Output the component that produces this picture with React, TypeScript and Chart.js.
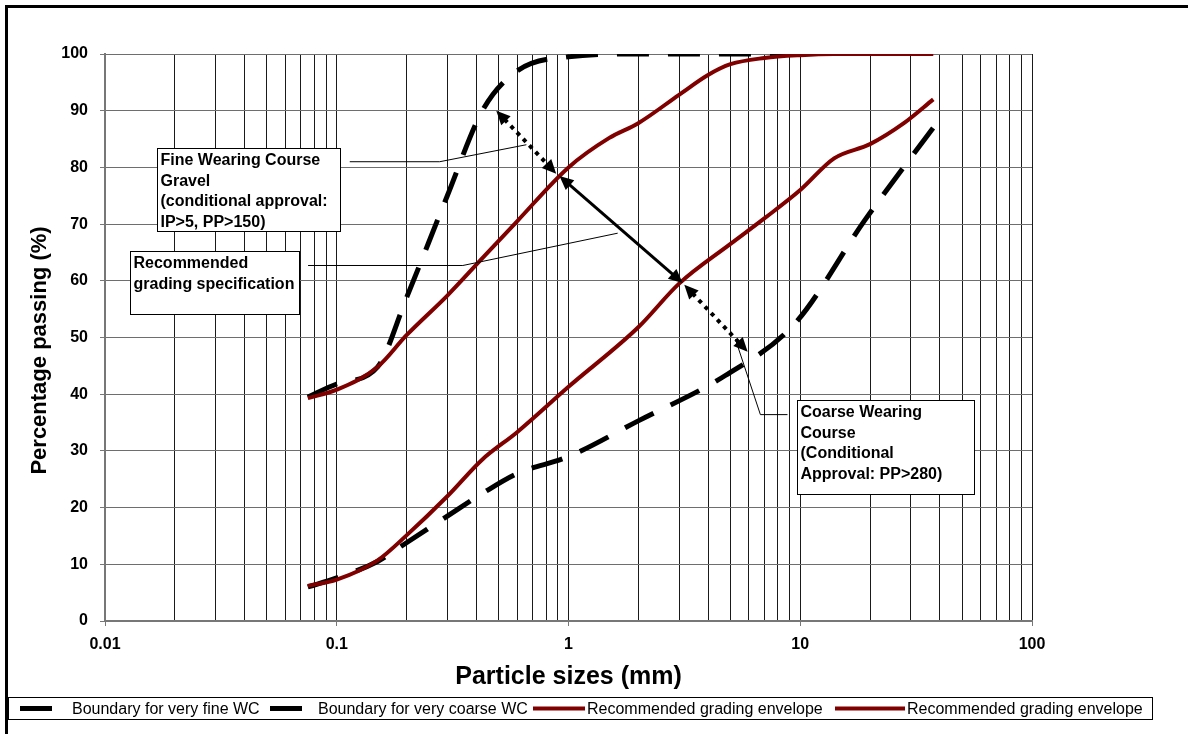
import React, { useEffect, useRef } from 'react';
import { Chart, registerables } from 'chart.js';

Chart.register(...registerables);

// ---------- data ----------
const seriesLabels = [
  'Boundary for very fine WC',
  'Boundary for very coarse WC',
  'Recommended grading envelope',
  'Recommended grading envelope',
];

const fineSizes = [0.075, 0.1, 0.15, 0.2, 0.3, 0.425, 0.6, 1.0, 2.0, 10];
const finePassing = [39.5, 41.8, 44.8, 57, 75, 90, 97, 99.5, 100, 100];

const coarseSizes = [0.075, 0.1, 0.15, 0.2, 0.3, 0.425, 0.6, 1.0, 2.0, 4.75, 9.5, 19, 37.5];
const coarsePassing = [6, 7.6, 10.5, 13.8, 18.5, 22.5, 26, 29, 35.3, 43.3, 52.5, 70.7, 87];

const upperSizes = [0.075, 0.1, 0.15, 0.2, 0.3, 0.425, 0.6, 1, 1.5, 2, 3, 4, 5, 7, 10, 14, 20, 37.5];
const upperPassing = [39.3, 40.8, 44.8, 50.4, 57.4, 64, 70.5, 80, 85.2, 87.8, 92.8, 96.3, 98.2, 99.3, 99.8, 100, 100, 100];

const lowerSizes = [0.075, 0.1, 0.15, 0.2, 0.3, 0.425, 0.6, 1, 2, 3, 5, 7, 10, 14, 20, 28, 37.5];
const lowerPassing = [6.2, 7.3, 10.7, 15.1, 22, 28.5, 33.3, 41.3, 51.8, 59.5, 66.5, 71, 76, 81.6, 84.1, 87.8, 92];

const xMajorValues = [0.01, 0.1, 1, 10, 100];
const xTickLabels = ['0.01', '0.1', '1', '10', '100'];
const yTickValues = [0, 10, 20, 30, 40, 50, 60, 70, 80, 90, 100];
const xTitle = 'Particle sizes (mm)';
const yTitle = 'Percentage passing (%)';

// annotations (data coordinates: [size mm, passing %])
const solidArrow = [[0.914, 78.5], [3.11, 59.6]];
const dottedArrow1 = [[0.488, 90], [0.885, 78.9]];
const dottedArrow2 = [[3.16, 59.3], [5.93, 47.5]];
const leader1 = [[0.1138, 81], [0.278, 81], [0.658, 84]];
const leader2 = [[0.0752, 62.7], [0.35, 62.7], [1.63, 68.4]];
const leader3 = [[8.81, 36.4], [6.73, 36.4], [5.25, 49.7]];

const box1Lines = ['Fine Wearing Course', 'Gravel', '(conditional approval:', 'IP>5, PP>150)'];
const box2Lines = ['Recommended', 'grading specification'];
const box3Lines = ['Coarse Wearing', 'Course', '(Conditional', 'Approval: PP>280)'];
const box1Anchor = [0.01679, 83.4];
const box2Anchor = [0.01282, 65.2];
const box3Anchor = [9.73, 39];

const FONT = 'Arial, "Liberation Sans", Helvetica, sans-serif';
const RED = '#800000';

function toXY(xs: number[], ys: number[]) {
  return xs.map((x, i) => ({ x, y: ys[i] }));
}

function arrowHead(ctx: CanvasRenderingContext2D, tip: number[], from: number[], len: number, half: number) {
  const dx = tip[0] - from[0];
  const dy = tip[1] - from[1];
  const d = Math.hypot(dx, dy);
  const ux = dx / d, uy = dy / d;
  const bx = tip[0] - ux * len, by = tip[1] - uy * len;
  ctx.beginPath();
  ctx.moveTo(tip[0], tip[1]);
  ctx.lineTo(bx - uy * half, by + ux * half);
  ctx.lineTo(bx + uy * half, by - ux * half);
  ctx.closePath();
  ctx.fill();
}

function doubleArrow(ctx: CanvasRenderingContext2D, a: number[], b: number[], width: number, dash: number[] | null) {
  const len = 14, half = 6.5;
  const dx = b[0] - a[0], dy = b[1] - a[1];
  const d = Math.hypot(dx, dy);
  const ux = dx / d, uy = dy / d;
  const a2 = [a[0] + ux * (len - 2), a[1] + uy * (len - 2)];
  const b2 = [b[0] - ux * (len - 2), b[1] - uy * (len - 2)];
  ctx.save();
  ctx.strokeStyle = '#000';
  ctx.fillStyle = '#000';
  ctx.lineWidth = width;
  ctx.lineCap = 'butt';
  ctx.setLineDash(dash || []);
  ctx.beginPath();
  ctx.moveTo(a2[0], a2[1]);
  ctx.lineTo(b2[0], b2[1]);
  ctx.stroke();
  ctx.setLineDash([]);
  arrowHead(ctx, a, b, len, half);
  arrowHead(ctx, b, a, len, half);
  ctx.restore();
}

const legendSamples = [[20, 52], [270, 302], [533, 585], [835, 905]];
const legendTextX = [72, 318, 587, 907];

const annotPlugin = {
  id: 'annot',
  beforeDraw(chart: any) {
    const ctx = chart.ctx as CanvasRenderingContext2D;
    ctx.save();
    ctx.fillStyle = '#fff';
    ctx.fillRect(0, 0, chart.width, chart.height);
    ctx.strokeStyle = '#000';
    ctx.lineWidth = 3;
    ctx.beginPath();
    ctx.moveTo(5, 6.5);
    ctx.lineTo(chart.width, 6.5);
    ctx.moveTo(6.5, 5);
    ctx.lineTo(6.5, chart.height);
    ctx.stroke();
    ctx.restore();
  },
  afterDraw(chart: any) {
    const ctx = chart.ctx as CanvasRenderingContext2D;
    const area = chart.chartArea;
    ctx.save();
    ctx.fillStyle = '#000';
    ctx.font = 'bold 22px ' + FONT;
    ctx.textAlign = 'center';
    ctx.textBaseline = 'middle';
    ctx.translate(40, (area.top + area.bottom) / 2 + 13);
    ctx.rotate(-Math.PI / 2);
    ctx.fillText(yTitle, 0, 0);
    ctx.restore();
  },
  afterDatasetsDraw(chart: any) {
    const ctx = chart.ctx as CanvasRenderingContext2D;
    const xs = chart.scales.x, ys = chart.scales.y;
    const P = (p: number[]) => [xs.getPixelForValue(p[0]), ys.getPixelForValue(p[1])];

    // leader lines
    ctx.save();
    ctx.strokeStyle = '#000';
    ctx.lineWidth = 1;
    [leader1, leader2, leader3].forEach((ln) => {
      ctx.beginPath();
      ln.forEach((p, i) => {
        const q = P(p);
        if (i === 0) ctx.moveTo(q[0], q[1]);
        else ctx.lineTo(q[0], q[1]);
      });
      ctx.stroke();
    });
    ctx.restore();

    // arrows
    doubleArrow(ctx, P(solidArrow[0]), P(solidArrow[1]), 3, null);
    doubleArrow(ctx, P(dottedArrow1[0]), P(dottedArrow1[1]), 4, [4, 5]);
    doubleArrow(ctx, P(dottedArrow2[0]), P(dottedArrow2[1]), 4, [4, 5]);

    // text boxes
    const boxes: [number[], string[], number, number][] = [
      [box1Anchor, box1Lines, 183, 83],
      [box2Anchor, box2Lines, 169, 63],
      [box3Anchor, box3Lines, 177, 94],
    ];
    ctx.save();
    boxes.forEach(([anchor, lines, w, h]) => {
      const q = P(anchor);
      const x = Math.round(q[0]) + 0.5, y = Math.round(q[1]) + 0.5;
      ctx.fillStyle = '#fff';
      ctx.fillRect(x, y, w, h);
      ctx.strokeStyle = '#000';
      ctx.lineWidth = 1;
      ctx.strokeRect(x, y, w, h);
      ctx.fillStyle = '#000';
      ctx.font = 'bold 16px ' + FONT;
      ctx.textBaseline = 'middle';
      ctx.textAlign = 'left';
      lines.forEach((t, i) => ctx.fillText(t, x + 3, y + 12 + i * 20.7));
    });
    ctx.restore();

    // legend
    ctx.save();
    ctx.strokeStyle = '#000';
    ctx.lineWidth = 1;
    ctx.strokeRect(8.5, 697.5, 1144, 22);
    const ly = 708.5;
    legendSamples.forEach((s, i) => {
      ctx.beginPath();
      ctx.strokeStyle = i < 2 ? '#000' : RED;
      ctx.lineWidth = i < 2 ? 5 : 4;
      ctx.moveTo(s[0], ly);
      ctx.lineTo(s[1], ly);
      ctx.stroke();
    });
    ctx.fillStyle = '#000';
    ctx.textBaseline = 'middle';
    ctx.textAlign = 'left';
    ctx.font = '16px ' + FONT;
    legendTextX.forEach((tx, i) => {
      ctx.fillText(seriesLabels[i], tx, ly + 1);
    });
    ctx.restore();
  },
};

export default function App() {
  const ref = useRef<HTMLCanvasElement | null>(null);

  useEffect(() => {
    if (!ref.current) return;
    const isMajor = (v: number) => xMajorValues.findIndex((m) => Math.abs(v - m) / m < 1e-6);
    const xTickValues: number[] = [];
    for (let d = 0; d < xMajorValues.length; d++) {
      const base = xMajorValues[d];
      if (d === xMajorValues.length - 1) {
        xTickValues.push(base);
      } else {
        for (let k = 1; k <= 9; k++) xTickValues.push(base * k);
      }
    }

    const dashed = (label: string, xs: number[], ys: number[]) => ({
      label,
      data: toXY(xs, ys),
      borderColor: '#000',
      borderWidth: 5,
      borderDash: [32, 19],
      pointRadius: 0,
      cubicInterpolationMode: 'monotone',
      fill: false,
      order: 2,
    });
    const solid = (label: string, xs: number[], ys: number[]) => ({
      label,
      data: toXY(xs, ys),
      borderColor: RED,
      borderWidth: 4,
      pointRadius: 0,
      cubicInterpolationMode: 'monotone',
      fill: false,
      order: 1,
    });

    const chart = new Chart(ref.current, {
      type: 'line',
      data: {
        datasets: [
          dashed(seriesLabels[0], fineSizes, finePassing),
          dashed(seriesLabels[1], coarseSizes, coarsePassing),
          solid(seriesLabels[2], upperSizes, upperPassing),
          solid(seriesLabels[3], lowerSizes, lowerPassing),
        ],
      } as any,
      options: {
        animation: false,
        responsive: false,
        events: [],
        layout: { padding: { left: 10, top: 54, right: 156, bottom: 0 } },
        plugins: {
          legend: { display: false },
          tooltip: { enabled: false },
        },
        scales: {
          x: {
            type: 'logarithmic',
            min: 0.01,
            max: 100,
            position: 'bottom',
            afterBuildTicks: (s: any) => {
              s.ticks = xTickValues.map((v) => ({ value: v }));
            },
            afterFit: (s: any) => {
              s.height = 113;
            },
            ticks: {
              autoSkip: false,
              maxRotation: 0,
              minRotation: 0,
              padding: 9,
              color: '#000',
              font: { family: FONT, size: 16, weight: 'bold' },
              callback: (v: any) => {
                const i = isMajor(Number(v));
                return i >= 0 ? xTickLabels[i] : '';
              },
            },
            grid: {
              color: '#1a1a1a',
              lineWidth: 1,
              tickLength: 5,
              tickColor: (c: any) => (c.tick && isMajor(c.tick.value) >= 0 ? '#777' : 'rgba(0,0,0,0)'),
            },
            border: { color: '#777', width: 2 },
            title: {
              display: true,
              text: xTitle,
              color: '#000',
              font: { family: FONT, size: 25, weight: 'bold' },
              padding: { top: 0, bottom: 42 },
            },
          },
          y: {
            min: 0,
            max: 100,
            afterBuildTicks: (s: any) => {
              s.ticks = yTickValues.map((v) => ({ value: v }));
            },
            afterFit: (s: any) => {
              s.width = 95;
            },
            ticks: {
              padding: 12,
              color: '#000',
              font: { family: FONT, size: 16, weight: 'bold' },
            },
            grid: { color: '#6e6e6e', lineWidth: 1, tickLength: 5, tickColor: '#777' },
            border: { color: '#777', width: 2 },
            title: { display: false },
          },
        },
      } as any,
      plugins: [annotPlugin],
    });
    return () => chart.destroy();
  }, []);

  return (
    <div style={{ position: 'absolute', left: 0, top: 0, width: 1188, height: 734 }}>
      <canvas ref={ref} width={1188} height={734} style={{ display: 'block', width: 1188, height: 734 }} />
    </div>
  );
}
